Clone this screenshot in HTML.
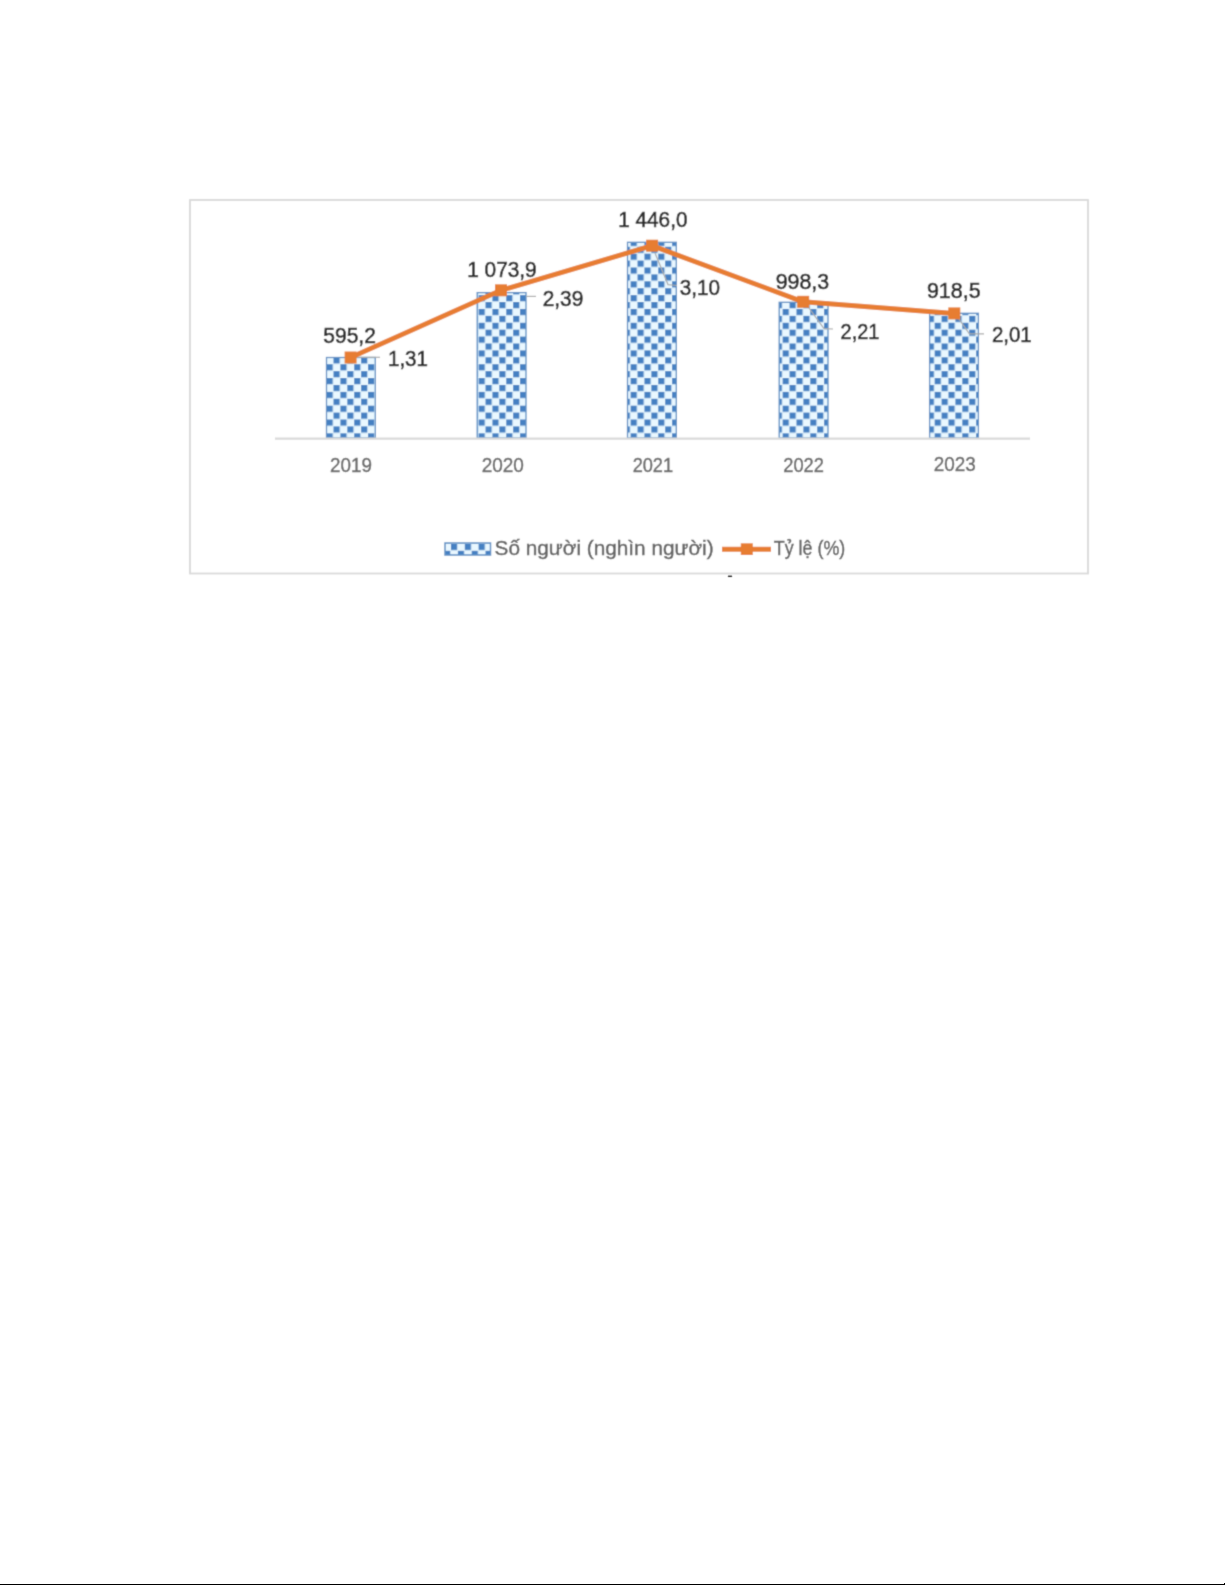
<!DOCTYPE html>
<html>
<head>
<meta charset="utf-8">
<style>
html,body{margin:0;padding:0;background:#fff;}
body{width:1225px;height:1585px;position:relative;overflow:hidden;font-family:"Liberation Sans",sans-serif;}
svg{position:absolute;left:0;top:0;}
.wrap{position:absolute;left:0;top:0;width:1225px;height:1585px;}
.bot{position:absolute;left:0;top:1584px;width:1225px;height:1px;background:#000;}
.bpx{position:absolute;left:1224px;top:1583px;width:1px;height:1px;background:#000;}
</style>
</head>
<body>
<div class="wrap">
<svg width="1225" height="1585" viewBox="0 0 1225 1585">
<defs>
<pattern id="chk" patternUnits="userSpaceOnUse" x="8.72" y="4.9" width="13.82" height="13.82">
<rect width="13.82" height="13.82" fill="#eaf8ff"/>
<rect x="0" y="0" width="6.2" height="6.2" fill="#4580c2"/>
<rect x="6.91" y="6.91" width="6.2" height="6.2" fill="#4580c2"/>
</pattern>
<filter id="bl" x="0" y="0" width="1225" height="1585" filterUnits="userSpaceOnUse"><feConvolveMatrix order="3" kernelMatrix="0.02768 0.11101 0.02768 0.11101 0.44521 0.11101 0.02768 0.11101 0.02768" divisor="1" edgeMode="duplicate"/></filter>
</defs>
<g filter="url(#bl)">
<rect x="190" y="200" width="898" height="373.5" fill="#fff" stroke="#d9d9d9" stroke-width="1.8"/>
<g stroke="#5d8fc4" stroke-width="1.3" fill="url(#chk)">
<rect x="326.50" y="357.50" width="48.80" height="80.50"/>
<rect x="477.20" y="292.60" width="48.80" height="145.40"/>
<rect x="627.50" y="242.30" width="48.80" height="195.70"/>
<rect x="779.20" y="302.30" width="48.80" height="135.70"/>
<rect x="929.60" y="313.30" width="48.80" height="124.70"/>
</g>
<line x1="275" y1="438.6" x2="1030" y2="438.6" stroke="#d9d9d9" stroke-width="2.2"/>
<g stroke="#ababab" stroke-width="1.2" fill="none">
<polyline points="356,357.3 380,357.3"/>
<polyline points="526,296.4 536,296.4"/>
<polyline points="655,253 668,284.6 677,285.5"/>
<polyline points="809,308 824,328.6 833,329"/>
<polyline points="959,319 969.4,333.8 984,333.8"/>
</g>
<polyline points="350.6,357.5 501.0,290.3 652.1,245.7 803.2,301.8 954.3,313.4" fill="none" stroke="#e77d33" stroke-width="5.0" stroke-linejoin="round"/>
<g fill="#e77d33">
<rect x="344.60" y="351.50" width="12.0" height="12.0"/>
<rect x="495.00" y="284.30" width="12.0" height="12.0"/>
<rect x="646.10" y="239.70" width="12.0" height="12.0"/>
<rect x="797.20" y="295.80" width="12.0" height="12.0"/>
<rect x="948.30" y="307.40" width="12.0" height="12.0"/>
</g>
<g font-family="Liberation Sans" font-size="22.20" fill="#2c2c2c" stroke="#2c2c2c" stroke-width="0.65">
<text x="323.36" y="342.68" textLength="52.52" lengthAdjust="spacingAndGlyphs">595,2</text>
<text x="467.18" y="276.88" textLength="69.51" lengthAdjust="spacingAndGlyphs">1 073,9</text>
<text x="618.29" y="227.48" textLength="69.16" lengthAdjust="spacingAndGlyphs">1 446,0</text>
<text x="775.74" y="288.80" textLength="53.45" lengthAdjust="spacingAndGlyphs">998,3</text>
<text x="926.88" y="298.08" textLength="53.73" lengthAdjust="spacingAndGlyphs">918,5</text>
</g>
<g font-family="Liberation Sans" font-size="22.20" fill="#2c2c2c" stroke="#2c2c2c" stroke-width="0.65">
<text x="388.01" y="365.89" textLength="39.90" lengthAdjust="spacingAndGlyphs">1,31</text>
<text x="542.72" y="305.91" textLength="40.51" lengthAdjust="spacingAndGlyphs">2,39</text>
<text x="679.71" y="295.15" textLength="40.19" lengthAdjust="spacingAndGlyphs">3,10</text>
<text x="840.57" y="338.99" textLength="38.72" lengthAdjust="spacingAndGlyphs">2,21</text>
<text x="991.91" y="342.41" textLength="39.84" lengthAdjust="spacingAndGlyphs">2,01</text>
</g>
<g font-family="Liberation Sans" font-size="19.80" fill="#6a6a6a" stroke="#6a6a6a" stroke-width="0.45">
<text x="330.04" y="472.44" textLength="41.83" lengthAdjust="spacingAndGlyphs">2019</text>
<text x="481.66" y="471.84" textLength="42.19" lengthAdjust="spacingAndGlyphs">2020</text>
<text x="632.64" y="472.14" textLength="40.49" lengthAdjust="spacingAndGlyphs">2021</text>
<text x="783.25" y="472.00" textLength="40.68" lengthAdjust="spacingAndGlyphs">2022</text>
<text x="933.68" y="471.44" textLength="42.07" lengthAdjust="spacingAndGlyphs">2023</text>
</g>
<rect x="445" y="543" width="45.5" height="12" fill="url(#chk)" stroke="#5d8fc4" stroke-width="1.5"/>
<line x1="722" y1="549.2" x2="771" y2="549.2" stroke="#e77d33" stroke-width="5.0"/>
<rect x="740.8" y="543.3" width="12" height="11.7" fill="#e77d33"/>
<rect x="728" y="575.5" width="4" height="1.5" fill="#222"/>
<text x="494.60" y="555.30" font-family="Liberation Sans" font-size="20.60" fill="#626262" stroke="#626262" stroke-width="0.45" textLength="219.00" lengthAdjust="spacingAndGlyphs">Số người (nghìn người)</text>
<text x="773.80" y="555.30" font-family="Liberation Sans" font-size="20.20" fill="#626262" stroke="#626262" stroke-width="0.45" textLength="71.40" lengthAdjust="spacingAndGlyphs">Tỷ lệ (%)</text>
</g>
</svg>
</div>
<div class="bot"></div>
<div class="bpx"></div>
</body>
</html>
